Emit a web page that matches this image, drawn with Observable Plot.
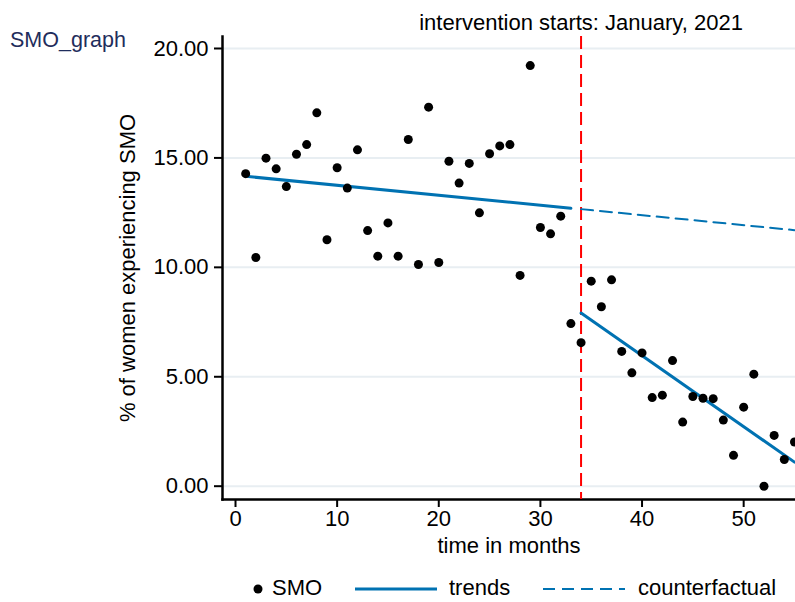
<!DOCTYPE html>
<html>
<head>
<meta charset="utf-8">
<script src="https://cdn.jsdelivr.net/npm/d3@7"></script>
<script src="https://cdn.jsdelivr.net/npm/@observablehq/plot@0.6"></script>
<style>
  html, body { margin: 0; padding: 0; background: white; }
  #wrap { position: relative; width: 795px; height: 602px; overflow: hidden;
          font-family: "Liberation Sans", Arial, sans-serif; }
  #chart { position: absolute; left: 0; top: 0; }
  #title { position: absolute; left: 10px; top: 25px; font-size: 21.5px; color: #1f2d5c; line-height: 30px; }
  .leg { position: absolute; font-size: 22px; line-height: 22px; top: 577px; color: black; white-space: nowrap; }
  .sym { position: absolute; top: 577px; }
</style>
</head>
<body>
<div id="wrap">
  <div id="chart"></div>
  <div id="title">SMO_graph</div>
  <div id="legend"></div>
</div>
<script>
// ---- data ----
const months = d3.range(1, 56);
const smo = [14.28, 10.45, 14.99, 14.50, 13.69, 15.17, 15.61, 17.06, 11.26, 14.55,
             13.62, 15.37, 11.68, 10.51, 12.03, 10.51, 15.84, 10.13, 17.32, 10.22,
             14.85, 13.85, 14.75, 12.49, 15.19, 15.55, 15.61, 9.63, 19.22, 11.82,
             11.53, 12.34, 7.43, 6.56, 9.37, 8.20, 9.43, 6.16, 5.18, 6.09,
             4.05, 4.16, 5.74, 2.93, 4.10, 4.02, 4.00, 3.02, 1.41, 3.61,
             5.12, 0.00, 2.32, 1.22, 2.02];
const trendPreMonths = [1, 33];
const trendPreValues = [14.16, 12.70];
const trendPostMonths = [34, 55];
const trendPostValues = [7.91, 1.10];
const cfMonths = [34, 55];
const cfValues = [12.66, 11.70];
const interventionMonth = 34;
const interventionLabel = "intervention starts: January, 2021";
const yTicks = [0, 5, 10, 15, 20];
const xTicks = [0, 10, 20, 30, 40, 50];
const legendLabels = ["SMO", "trends", "counterfactual"];

const blue = "#0072B2";
const font = '"Liberation Sans", Arial, sans-serif';

const pts = months.map((m, i) => ({m, v: smo[i]}));
const pre = trendPreMonths.map((m, i) => ({m, v: trendPreValues[i]}));
const post = trendPostMonths.map((m, i) => ({m, v: trendPostValues[i]}));
const cf = cfMonths.map((m, i) => ({m, v: cfValues[i]}));

const chart = Plot.plot({
  width: 795, height: 560,
  marginLeft: 222, marginRight: 0, marginTop: 36, marginBottom: 61,
  x: {domain: [-1.28, 55.1]},
  y: {domain: [-0.608, 20.548]},
  style: {fontFamily: font, fontSize: "22px", color: "black", background: "white", overflow: "visible"},
  marks: [
    Plot.gridY(yTicks, {stroke: "#e8eef2", strokeOpacity: 1, strokeWidth: 2}),
    Plot.axisY(yTicks, {tickSize: 8, tickPadding: 6, strokeWidth: 2, tickFormat: d3.format(".2f"),
      label: "% of women experiencing SMO", labelAnchor: "center", labelOffset: 103, labelArrow: "none", fontSize: 22}),
    Plot.axisX(xTicks, {tickSize: 8, tickPadding: 3, strokeWidth: 2,
      label: "time in months", labelAnchor: "center", labelOffset: 53, labelArrow: "none", fontSize: 22}),
    Plot.frame({anchor: "left", strokeWidth: 2.5, stroke: "black"}),
    Plot.frame({anchor: "bottom", strokeWidth: 2.5, stroke: "black"}),
    Plot.ruleX([interventionMonth], {stroke: "#ff0000", strokeWidth: 2, strokeDasharray: "13,6"}),
    Plot.line(pre, {x: "m", y: "v", stroke: blue, strokeWidth: 3}),
    Plot.line(post, {x: "m", y: "v", stroke: blue, strokeWidth: 3}),
    Plot.line(cf, {x: "m", y: "v", stroke: blue, strokeWidth: 2, strokeDasharray: "12,7"}),
    Plot.dot(pts, {x: "m", y: "v", r: 4.5, fill: "black"}),
    Plot.text([interventionLabel], {x: () => interventionMonth, text: d => d, frameAnchor: "top",
      dy: -14, lineAnchor: "middle", textAnchor: "middle", fontSize: 22, fill: "black"})
  ]
});
document.getElementById("chart").appendChild(chart);

// ---- legend (HTML below the plot) ----
const leg = document.getElementById("legend");
leg.innerHTML = `
  <svg class="sym" style="left:250px" width="16" height="22"><circle cx="8" cy="12" r="4.5" fill="black"/></svg>
  <div class="leg" style="left:272px">${legendLabels[0]}</div>
  <svg class="sym" style="left:355px" width="82" height="22"><line x1="0" x2="82" y1="12" y2="12" stroke="${blue}" stroke-width="3"/></svg>
  <div class="leg" style="left:449px">${legendLabels[1]}</div>
  <svg class="sym" style="left:543px" width="82" height="22"><line x1="0" x2="82" y1="12" y2="12" stroke="${blue}" stroke-width="2" stroke-dasharray="12,7"/></svg>
  <div class="leg" style="left:638px">${legendLabels[2]}</div>`;
</script>
</body>
</html>
